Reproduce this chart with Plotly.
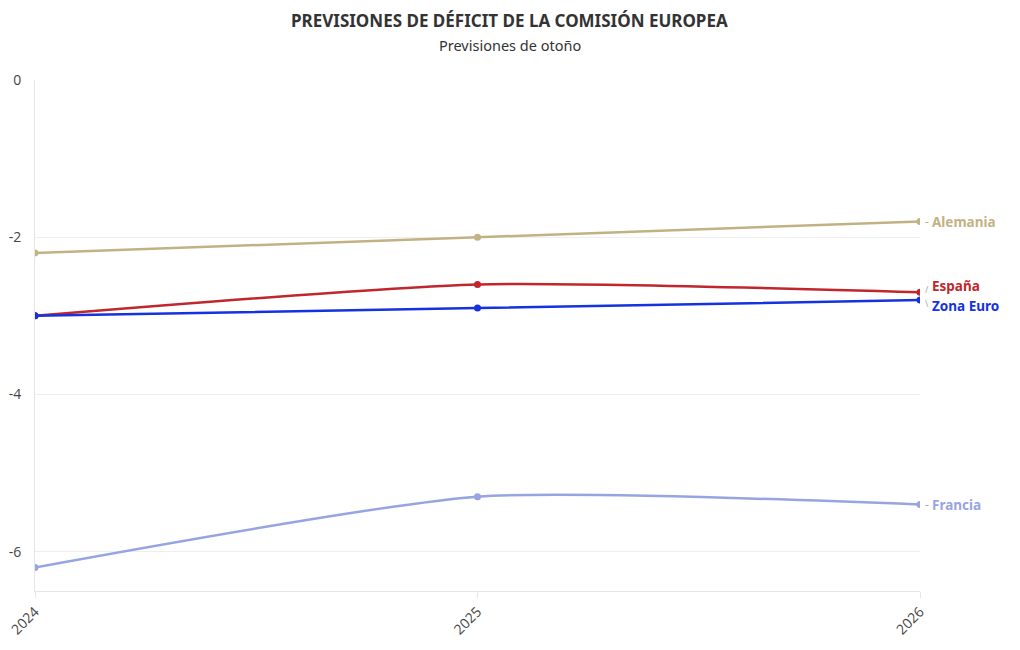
import plotly.graph_objects as go

years = [2024, 2025, 2026]
alemania = [-2.2, -2.0, -1.8]
espana = [-3.0, -2.6, -2.7]
zona_euro = [-3.0, -2.9, -2.8]
francia = [-6.2, -5.3, -5.4]
y_ticks = [-6, -4, -2, 0]
y_ticktext = ["-6", "-4", "-2", "0"]

series = [
    ("Alemania", alemania, "#c2b283", 0),
    ("España", espana, "#c0272d", 6),
    ("Zona Euro", zona_euro, "#1432e0", -6),
    ("Francia", francia, "#97a4e2", 0),
]

fig = go.Figure()
for name, vals, col, dy in series:
    fig.add_trace(go.Scatter(
        x=years, y=vals, mode="lines+markers", name=name,
        line=dict(color=col, width=2.5, shape="spline", smoothing=0.6),
        marker=dict(color=col, size=7),
        showlegend=False,
    ))
    fig.add_annotation(
        x=years[-1], y=vals[-1], xref="x", yref="y",
        text=f"<b>{name}</b>", showarrow=False,
        xanchor="left", yanchor="middle", xshift=10, yshift=dy,
        font=dict(family="Noto Sans", size=13.5, color=col),
    )
    fig.add_annotation(
        x=years[-1], y=vals[-1], xref="x", yref="y",
        text="-" if dy == 0 else ("/" if dy > 0 else "\\"), showarrow=False,
        xanchor="left", yanchor="middle", xshift=3, yshift=dy * 0.5,
        font=dict(family="Noto Sans", size=9 if dy else 12,
                  color=col if dy == 0 else "#aaaaaa"),
    )

fig.add_annotation(
    x=0.5367, y=1.1174, xref="paper", yref="paper", yanchor="middle",
    text="<b>PREVISIONES DE DÉFICIT DE LA COMISIÓN EUROPEA</b>",
    showarrow=False,
    font=dict(family="Noto Sans", size=17, color="#333333"),
)
fig.add_annotation(
    x=0.5367, y=1.0685, xref="paper", yref="paper", yanchor="middle",
    text="Previsiones de otoño", showarrow=False,
    font=dict(family="Noto Sans", size=14.5, color="#333333"),
)

fig.update_layout(
    width=1020, height=650,
    margin=dict(l=27, r=108, t=72, b=67),
    plot_bgcolor="white", paper_bgcolor="white",
    font=dict(family="Open Sans", size=14, color="#444444"),
)
fig.update_xaxes(
    range=[2024, 2026], tickvals=years, ticktext=[str(y) for y in years],
    tickangle=-45, showgrid=False, showline=True, linecolor="#e6e6e6",
    ticks="outside", ticklen=6, tickcolor="#e6e6e6", zeroline=False,
    automargin=False, ticklabeloverflow="allow",
    tickfont=dict(family="Open Sans", size=14, color="#444444"),
)
fig.update_yaxes(
    range=[-6.5, 0], tickvals=y_ticks, ticktext=y_ticktext, showgrid=True,
    gridcolor="#eeeeee", showline=True, linecolor="#e6e6e6",
    zeroline=False, ticks="", ticklabelstandoff=10, automargin=False,
    ticklabeloverflow="allow",
    tickfont=dict(family="Open Sans", size=14, color="#444444"),
)

fig.write_html("out.html")
